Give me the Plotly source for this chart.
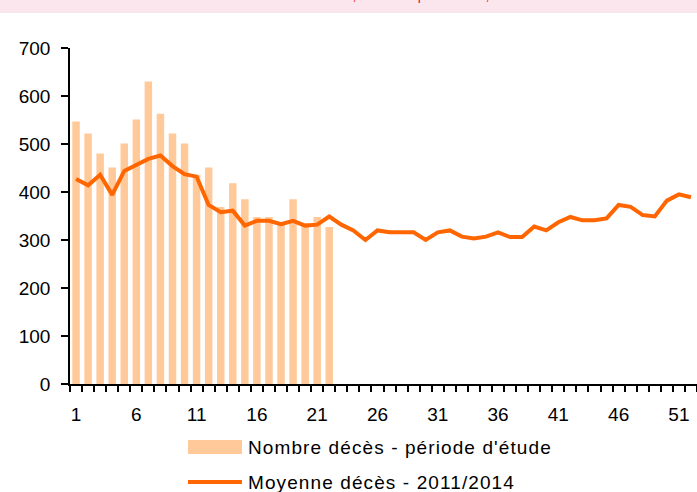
import plotly.graph_objects as go

weeks = list(range(1, 53))
study_weeks = list(range(1, 23))
deaths_study = [547, 522, 480, 451, 501, 551, 630, 563, 522, 501, 436, 451,
                369, 418, 385, 348, 348, 335, 385, 335, 348, 327]
mean_2011_2014 = [427, 414, 436, 394, 444, 456, 469, 476, 454, 437, 432, 373,
                  358, 361, 330, 340, 340, 333, 340, 330, 332, 349, 332, 320,
                  300, 320, 316, 316, 316, 300, 316, 320, 307, 303, 307, 316,
                  306, 306, 328, 320, 337, 348, 341, 341, 345, 373, 369, 352,
                  349, 382, 395, 389]
x_tick_vals = [1, 6, 11, 16, 21, 26, 31, 36, 41, 46, 51]
x_tick_text = [str(v) for v in x_tick_vals]
y_tick_vals = [0, 100, 200, 300, 400, 500, 600, 700]
bar_name = "Nombre décès - période d'étude"
line_name = "Moyenne décès - 2011/2014"
source_text = "Sources : Insee – état civil, données provisoires, 2015"

BAR_COLOR = "#FFC999"
LINE_COLOR = "#FF6600"
FONT = "Liberation Sans, Arial, sans-serif"

W, H = 697, 492
ML, MR, MT, MB = 70, 0, 48, 108
PW, PH = W - ML - MR, H - MT - MB

def px_x(px):
    return (px - ML) / PW

def px_y(py):
    return (H - MB - py) / PH

fig = go.Figure()
fig.add_trace(go.Bar(x=study_weeks, y=deaths_study, name=bar_name,
                     marker=dict(color=BAR_COLOR, line=dict(width=0)),
                     showlegend=False))
fig.add_trace(go.Scatter(x=weeks, y=mean_2011_2014, name=line_name, mode="lines",
                         line=dict(color=LINE_COLOR, width=4),
                         showlegend=False))

shapes = [
    # top pink band
    dict(type="rect", xref="paper", yref="paper", x0=px_x(-5), x1=px_x(705),
         y0=px_y(13), y1=px_y(-5), fillcolor="#FCE6EE", line=dict(width=0),
         layer="below"),
    # legend swatches
    dict(type="rect", xref="paper", yref="paper", x0=px_x(188), x1=px_x(242),
         y0=px_y(454), y1=px_y(440), fillcolor=BAR_COLOR, line=dict(width=0)),
    dict(type="line", xref="paper", yref="paper", x0=px_x(188), x1=px_x(242),
         y0=px_y(482), y1=px_y(482), line=dict(color=LINE_COLOR, width=4)),
]

annotations = [
    dict(text=source_text, xref="paper", yref="paper", x=px_x(357), y=px_y(5),
         xanchor="center", yanchor="bottom", showarrow=False,
         font=dict(family=FONT, size=14, color="#E8141E")),
    dict(text='<span style="letter-spacing:1.1px">' + bar_name + "</span>",
         xref="paper", yref="paper", x=px_x(246), y=px_y(447),
         xanchor="left", yanchor="middle", showarrow=False,
         font=dict(family=FONT, size=19, color="black")),
    dict(text='<span style="letter-spacing:1.1px">' + line_name + "</span>",
         xref="paper", yref="paper", x=px_x(246), y=px_y(482),
         xanchor="left", yanchor="middle", showarrow=False,
         font=dict(family=FONT, size=19, color="black")),
]

fig.update_layout(
    width=W, height=H,
    margin=dict(l=ML, r=MR, t=MT, b=MB, pad=0),
    paper_bgcolor="white", plot_bgcolor="white",
    bargap=0.38,
    font=dict(family=FONT, size=19, color="black"),
    shapes=shapes, annotations=annotations,
    showlegend=False,
)
fig.update_xaxes(
    range=[0.5, 52.5], showgrid=False, zeroline=False,
    showline=True, linecolor="black", linewidth=1.5,
    tickmode="array", tickvals=x_tick_vals, ticktext=x_tick_text,
    ticks="", ticklabelstandoff=12,
    tickfont=dict(family=FONT, size=19, color="black"),
    minor=dict(ticks="outside", tickmode="array",
               tickvals=[v + 0.5 for v in range(0, 53)],
               ticklen=6, tickwidth=1.5, tickcolor="black", showgrid=False),
)
fig.update_yaxes(
    range=[0, 700], showgrid=False, zeroline=False,
    showline=True, linecolor="black", linewidth=1.5,
    tickmode="array", tickvals=y_tick_vals,
    ticks="outside", ticklen=7, tickwidth=1.5, tickcolor="black",
    ticklabelstandoff=7,
    tickfont=dict(family=FONT, size=19, color="black"),
)

fig.write_html(
    "out.html",
    config={"displayModeBar": False},
    post_script="document.body.style.margin='0';document.body.style.overflow='hidden';",
)
